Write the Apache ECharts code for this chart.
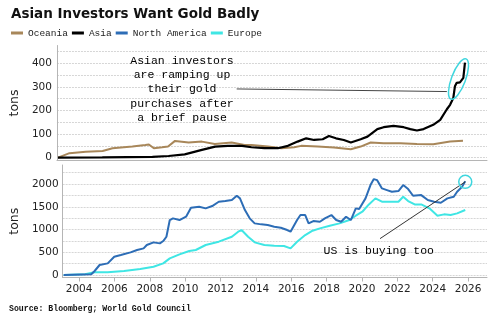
<!DOCTYPE html>
<html><head><meta charset="utf-8">
<script src="https://cdn.jsdelivr.net/npm/echarts@6/dist/echarts.min.js"></script>
<style>html,body{margin:0;padding:0;background:#fff}#c{width:500px;height:322px}</style>
</head><body><div id="c"></div>
<script>
// ---- data: [year, tons] ----
const oceania = [[2003.13,0],[2003.77,19],[2004.68,25],[2005.62,28],[2006.17,40],[2007.28,47],[2008.0,54],[2008.2,56],[2008.48,40],[2008.94,44],[2009.27,47],[2009.66,71],[2010.42,64],[2011.16,68],[2011.88,58],[2012.82,64],[2013.54,54],[2013.93,54],[2014.85,47],[2015.59,40],[2016.31,44],[2016.7,50],[2017.62,47],[2018.53,43],[2019.47,36],[2020.02,47],[2020.58,64],[2021.3,61],[2022.24,61],[2023.16,58],[2024.07,57],[2025.01,68],[2025.73,72]];
const asia = [[2003.13,0],[2005.6,1],[2008.4,3],[2009.3,7],[2010.2,14],[2011.16,33],[2011.9,47],[2012.6,50],[2013.4,50],[2013.93,44],[2014.65,40],[2015.4,40],[2015.96,50],[2016.5,68],[2016.98,82],[2017.42,75],[2017.9,78],[2018.25,92],[2018.64,82],[2019.08,75],[2019.47,64],[2020.02,78],[2020.4,89],[2020.95,121],[2021.3,129],[2021.85,135],[2022.42,129],[2022.79,121],[2023.16,115],[2023.53,121],[2024.07,139],[2024.46,160],[2024.83,205],[2025.01,224],[2025.19,253],[2025.28,302],[2025.38,317],[2025.56,319],[2025.75,338],[2025.84,402]];
const northAmerica = [[2003.13,0],[2004.69,15],[2004.88,88],[2005.16,220],[2005.62,256],[2005.99,403],[2006.36,440],[2006.91,498],[2007.28,550],[2007.65,586],[2007.83,660],[2008.21,718],[2008.57,696],[2008.76,747],[2008.94,842],[2009.13,1209],[2009.31,1246],[2009.68,1209],[2010.05,1282],[2010.33,1480],[2010.79,1502],[2011.16,1466],[2011.53,1517],[2011.9,1612],[2012.27,1627],[2012.64,1649],[2012.92,1743],[2013.1,1686],[2013.38,1429],[2013.65,1246],[2013.93,1136],[2014.3,1114],[2014.67,1099],[2015.04,1062],[2015.41,1040],[2015.77,989],[2015.96,952],[2016.33,1209],[2016.52,1319],[2016.79,1319],[2016.98,1136],[2017.25,1187],[2017.62,1172],[2017.9,1246],[2018.27,1319],[2018.54,1209],[2018.82,1172],[2019.1,1282],[2019.37,1209],[2019.65,1466],[2019.84,1451],[2020.2,1686],[2020.48,1978],[2020.67,2110],[2020.85,2088],[2021.13,1905],[2021.41,1868],[2021.69,1831],[2022.06,1846],[2022.33,1978],[2022.61,1890],[2022.89,1743],[2023.35,1758],[2023.72,1649],[2024.08,1612],[2024.46,1590],[2024.83,1686],[2025.19,1722],[2025.38,1831],[2025.66,1941],[2025.84,2060]];
const europe = [[2003.13,0],[2004.33,15],[2004.88,59],[2005.62,59],[2006.54,88],[2007.46,132],[2008.21,183],[2008.76,256],[2009.13,366],[2009.68,454],[2010.23,527],[2010.6,550],[2011.16,660],[2011.9,733],[2012.64,842],[2013.0,952],[2013.19,989],[2013.56,842],[2013.93,718],[2014.48,660],[2015.04,645],[2015.59,638],[2015.96,586],[2016.33,733],[2016.79,879],[2017.16,967],[2017.62,1026],[2018.18,1084],[2018.73,1136],[2019.29,1209],[2019.65,1304],[2020.02,1392],[2020.39,1553],[2020.76,1686],[2021.13,1612],[2021.5,1612],[2022.06,1612],[2022.33,1722],[2022.61,1627],[2022.98,1553],[2023.35,1553],[2023.81,1466],[2024.27,1304],[2024.64,1334],[2025.01,1319],[2025.38,1356],[2025.84,1429]];
const xTickLabels = [2004,2006,2008,2010,2012,2014,2016,2018,2020,2022,2024,2026];
const topTicks = [0,50,100,150,200,250,300,350,400,450];
const topLabels = [0,100,200,300,400];
const bottomTicks = [0,250,500,750,1000,1250,1500,1750,2000,2250];
const bottomLabels = [0,500,1000,1500,2000];

const C = {oce:'#a8875a', asia:'#000000', na:'#2d6db6', eu:'#3fe6e4'};
const tickFont = 'DejaVu Sans';
const mono = 'Liberation Mono';
const grid = {color:'#d6d6d6', type:[2,1], width:1};

const chart = echarts.init(document.getElementById('c'), null, {renderer:'canvas'});
const yBase = (min,max,ticks,labels,gap) => ({
  type:'value', min, max, gridIndex:0,
  name:'tons', nameLocation:'middle', nameGap:gap, nameRotate:90,
  nameTextStyle:{fontFamily:tickFont, fontSize:12.5, color:'#222'},
  axisLine:{show:true, lineStyle:{color:'#b5b5b5'}},
  axisTick:{show:false, customValues:ticks},
  axisLabel:{customValues:labels, fontFamily:tickFont, fontSize:10.5, color:'#222', margin:5,
    formatter:v=>String(Math.round(v))},
  splitLine:{show:true, lineStyle:grid}
});
const yTop = yBase(-12,475,topTicks,topLabels,27); yTop.gridIndex=0;
const yBot = yBase(-55,2420,bottomTicks,bottomLabels,33); yBot.gridIndex=1; yBot.axisLabel.margin=4;

chart.setOption({
  animation:false,
  title:{text:'Asian Investors Want Gold Badly', left:6, top:2,
    textStyle:{fontFamily:'DejaVu Sans', fontWeight:'bold', fontSize:13.5, color:'#111'}},
  legend:{left:6, top:23, itemWidth:12, itemHeight:3, itemGap:4, icon:'rect',
    textStyle:{fontFamily:mono, fontSize:9.5, color:'#222'},
    data:['Oceania','Asia','North America','Europe']},
  grid:[{left:54, right:13, top:45.5, height:115},{left:54, right:13, top:165, height:112.5}],
  xAxis:[
    {type:'value', gridIndex:0, min:2003.07, max:2027.07,
     axisLine:{show:true, onZero:false, lineStyle:{color:'#b5b5b5'}},
     axisTick:{show:false}, axisLabel:{show:false}, splitLine:{show:false}},
    {type:'value', gridIndex:1, min:2003.07, max:2027.07,
     axisLine:{show:true, onZero:false, lineStyle:{color:'#b5b5b5'}},
     axisTick:{show:true, customValues:xTickLabels, length:4, lineStyle:{color:'#b5b5b5'}},
     axisLabel:{customValues:xTickLabels, fontFamily:tickFont, fontSize:10.5, color:'#222', margin:6,
       formatter:v=>String(Math.round(v))},
     splitLine:{show:false}}
  ],
  yAxis:[yTop,yBot],
  series:[
    {name:'Oceania', type:'line', xAxisIndex:0, yAxisIndex:0, data:oceania, showSymbol:false, lineStyle:{color:C.oce,width:2}, itemStyle:{color:C.oce}},
    {name:'Asia', type:'line', xAxisIndex:0, yAxisIndex:0, data:asia, showSymbol:false, lineStyle:{color:C.asia,width:2.2}, itemStyle:{color:C.asia}},
    {name:'Europe', type:'line', xAxisIndex:1, yAxisIndex:1, data:europe, showSymbol:false, lineStyle:{color:C.eu,width:2}, itemStyle:{color:C.eu}},
    {name:'North America', type:'line', xAxisIndex:1, yAxisIndex:1, data:northAmerica, showSymbol:false, lineStyle:{color:C.na,width:2}, itemStyle:{color:C.na}}
  ]
});

// annotations anchored in data coordinates
const p0 = v => chart.convertToPixel({xAxisIndex:0, yAxisIndex:0}, v);
const p1 = v => chart.convertToPixel({xAxisIndex:1, yAxisIndex:1}, v);
const tTxt = p0([2010.05, 290]);
const tL1 = p0([2013.1, 291]), tL2 = p0([2024.83, 280]);
const tEl = p0([2025.48, 333]);
const bTxt = p1([2020.95, 527]);
const bL1 = p1([2021.02, 800]), bL2 = p1([2025.84, 2050]);
const bC = p1([2025.84, 2050]);
chart.setOption({graphic:[
  {type:'text', x:tTxt[0], y:tTxt[1], z:100, style:{text:'Asian investors\nare ramping up\ntheir gold\npurchases after\na brief pause',
    fontFamily:mono, fontSize:11.5, lineHeight:14.3, fill:'#000', align:'center', verticalAlign:'middle'}},
  {type:'line', z:90, shape:{x1:tL1[0], y1:tL1[1], x2:tL2[0], y2:tL2[1]}, style:{stroke:'#444', lineWidth:1}},
  {type:'ellipse', z:95, x:tEl[0], y:tEl[1], rotation:-0.36, shape:{cx:0, cy:0, rx:7, ry:21.5}, style:{fill:null, stroke:'#3fd6de', lineWidth:1.5}},
  {type:'text', x:bTxt[0], y:bTxt[1], z:100, style:{text:'US is buying too', fontFamily:mono, fontSize:11.5, fill:'#000', align:'center', verticalAlign:'middle'}},
  {type:'line', z:90, shape:{x1:bL1[0], y1:bL1[1], x2:bL2[0], y2:bL2[1]}, style:{stroke:'#333', lineWidth:1}},
  {type:'circle', z:95, shape:{cx:bC[0], cy:bC[1], r:6.5}, style:{fill:null, stroke:'#3fd6de', lineWidth:1.5}},
  {type:'text', left:9, top:305, style:{text:'Source: Bloomberg; World Gold Council', fontFamily:mono, fontWeight:'bold', fontSize:8.2, fill:'#111'}}
]});
</script></body></html>
